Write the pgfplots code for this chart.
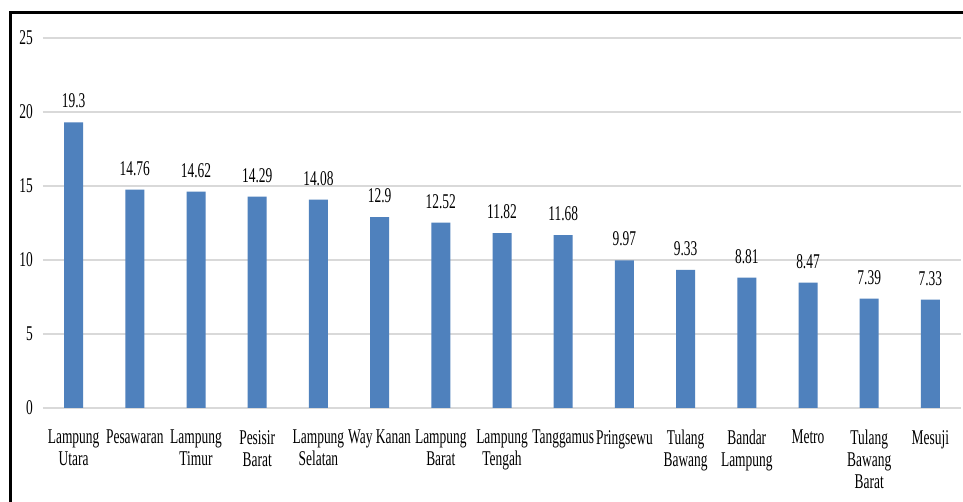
\documentclass[border=0pt]{standalone}
\usepackage{fontspec}
\setmainfont{Liberation Serif}[FakeStretch=0.64]
\usepackage{pgfplots}
\pgfplotsset{compat=1.18}
\definecolor{barblue}{RGB}{79,129,189}
\definecolor{gridgray}{RGB}{217,217,217}
\pgfplotstableread{
x y
0 19.3
1 14.76
2 14.62
3 14.29
4 14.08
5 12.9
6 12.52
7 11.82
8 11.68
9 9.97
10 9.33
11 8.81
12 8.47
13 7.39
14 7.33
}\datatable
\begin{document}
\fontsize{21pt}{22pt}\selectfont
\begin{tikzpicture}
\path[use as bounding box] (0,0) rectangle (963pt,502pt);
\fill[white] (0,0) rectangle (963pt,502pt);
\begin{axis}[
  at={(43pt,94pt)}, anchor=south west,
  scale only axis, width=918pt, height=370pt,
  xmin=-0.5, xmax=14.5, ymin=0, ymax=25,
  ytick={0,5,10,15,20,25},
  xtick={0,...,14},
  xticklabels={{Lampung\\Utara},{Pesawaran},{Lampung\\Timur},{Pesisir\\Barat},{Lampung\\Selatan},{Way Kanan},{Lampung\\Barat},{Lampung\\Tengah},{Tanggamus},{Pringsewu},{Tulang\\Bawang},{Bandar\\Lampung},{Metro},{Tulang\\Bawang\\Barat},{Mesuji}},
  axis line style={draw=none},
  major tick length=0pt,
  ymajorgrids, grid style={gridgray, line width=2pt},
  /pgf/number format/assume math mode=true,
  tick label style={font=\fontsize{21pt}{22pt}\selectfont},
  xticklabel style={align=center, anchor=north, yshift=-15pt},
  yticklabel style={xshift=-3pt},
  ybar, bar width=19pt,
  nodes near coords,
  every node near coord/.append style={font=\fontsize{21pt}{22pt}\selectfont, yshift=7pt, /pgf/number format/assume math mode=true},
  clip=false,
]
\addplot[fill=barblue, draw=none] table[x=x, y=y] {\datatable};
\end{axis}
\draw[black, line width=3pt] (10pt,0) -- (10pt,489.5pt) -- (963pt,489.5pt);
\end{tikzpicture}
\end{document}
